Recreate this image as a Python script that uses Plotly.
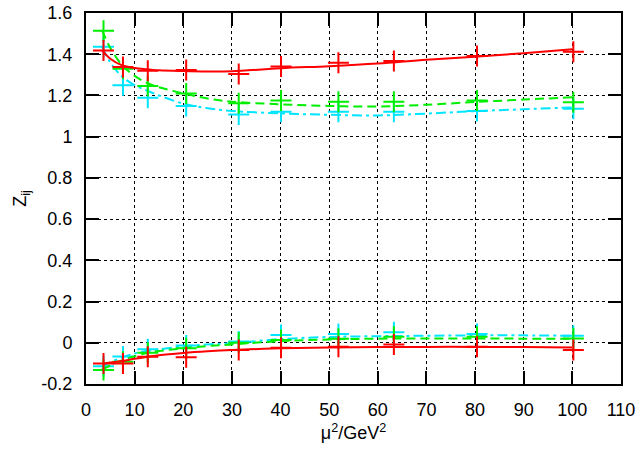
import plotly.graph_objects as go

# data points (mu^2 in GeV^2)
mu2 = [3.6, 7.6, 12.7, 20.6, 31.4, 40.1, 51.9, 63.3, 80.4, 100.2]

red_top = [1.418, 1.338, 1.320, 1.323, 1.304, 1.340, 1.359, 1.367, 1.391, 1.412]
green_top = [1.514, 1.330, 1.246, 1.210, 1.162, 1.175, 1.170, 1.170, 1.175, 1.167]
cyan_top = [1.436, 1.250, 1.189, 1.149, 1.108, 1.121, 1.121, 1.121, 1.124, 1.135]

red_bot = [-0.100, -0.100, -0.068, -0.070, -0.035, -0.024, -0.019, -0.008, -0.019, -0.035]
green_bot = [-0.132, -0.092, -0.048, -0.027, 0.000, 0.013, 0.019, 0.029, 0.029, 0.021]
cyan_bot = [-0.114, -0.066, -0.032, -0.013, 0.006, 0.038, 0.042, 0.051, 0.042, 0.034]

# fit curves
fit_x = [3.3, 5, 7.5, 10, 12.7, 15, 20, 25, 30, 40, 50, 60, 70, 80, 90, 100]
red_top_fit = [1.420, 1.378, 1.345, 1.333, 1.327, 1.322, 1.318, 1.316, 1.317, 1.332, 1.342, 1.355, 1.373, 1.388, 1.405, 1.424]
green_top_fit = [1.517, 1.430, 1.345, 1.295, 1.259, 1.240, 1.210, 1.185, 1.170, 1.157, 1.149, 1.146, 1.155, 1.168, 1.180, 1.191]
cyan_top_fit = [1.437, 1.360, 1.290, 1.250, 1.222, 1.200, 1.160, 1.138, 1.125, 1.113, 1.106, 1.103, 1.112, 1.124, 1.133, 1.142]
red_bot_fit = [-0.103, -0.096, -0.088, -0.078, -0.068, -0.060, -0.049, -0.041, -0.035, -0.027, -0.023, -0.021, -0.020, -0.020, -0.021, -0.023]
green_bot_fit = [-0.129, -0.110, -0.085, -0.065, -0.048, -0.040, -0.027, -0.016, -0.008, 0.008, 0.016, 0.020, 0.021, 0.021, 0.020, 0.019]
cyan_bot_fit = [-0.117, -0.095, -0.070, -0.052, -0.039, -0.032, -0.017, -0.008, -0.002, 0.018, 0.028, 0.032, 0.034, 0.036, 0.036, 0.034]

x_ticks = list(range(0, 111, 10))
y_ticks = [-0.2, 0, 0.2, 0.4, 0.6, 0.8, 1, 1.2, 1.4, 1.6]
y_labels = ["-0.2", "0", "0.2", "0.4", "0.6", "0.8", "1", "1.2", "1.4", "1.6"]

RED = "#ff0000"
GREEN = "#00ee00"
CYAN = "#00e5ff"
FONT = "Liberation Sans, Arial, sans-serif"

fig = go.Figure()

series = [
    (cyan_top_fit, cyan_top, CYAN, "10px,4px,3px,4px"),
    (cyan_bot_fit, cyan_bot, CYAN, "10px,4px,3px,4px"),
    (green_top_fit, green_top, GREEN, "9px,5px"),
    (green_bot_fit, green_bot, GREEN, "9px,5px"),
    (red_top_fit, red_top, RED, "solid"),
    (red_bot_fit, red_bot, RED, "solid"),
]

for fit, pts, col, dash in series:
    fig.add_trace(go.Scatter(x=fit_x, y=fit, mode="lines",
                             line=dict(color=col, width=2, dash=dash, shape="spline", smoothing=1.0),
                             showlegend=False, hoverinfo="skip"))
    fig.add_trace(go.Scatter(x=mu2, y=pts, mode="markers",
                             marker=dict(symbol="cross-thin", size=15, line=dict(color=col, width=2)),
                             showlegend=False))

axis_common = dict(
    showline=True, linecolor="black", linewidth=2, mirror="ticks",
    ticks="inside", ticklen=13, tickwidth=2, tickcolor="black",
    showgrid=True, gridcolor="black", gridwidth=1, griddash="dot",
    zeroline=False, automargin=False,
    tickfont=dict(family=FONT, size=18, color="black"),
)

fig.update_xaxes(range=[0, 110], tickvals=x_ticks, ticklabelstandoff=8, **axis_common,
                 title=dict(text="μ<sup>2</sup>/GeV<sup>2</sup>", standoff=8,
                            font=dict(family=FONT, size=18, color="black")))
fig.update_yaxes(range=[-0.2, 1.6], tickvals=y_ticks, ticktext=y_labels, ticklabelstandoff=8, **axis_common,
                 title=dict(text="Z<sub>ij</sub>", standoff=10,
                            font=dict(family=FONT, size=18, color="black")))

fig.update_layout(
    width=642, height=450,
    margin=dict(l=86, r=21, t=13, b=66),
    plot_bgcolor="white", paper_bgcolor="white",
)

fig.write_html("out.html", config={"displayModeBar": False},
               post_script="document.body.style.margin='0';document.body.style.overflow='hidden';")
